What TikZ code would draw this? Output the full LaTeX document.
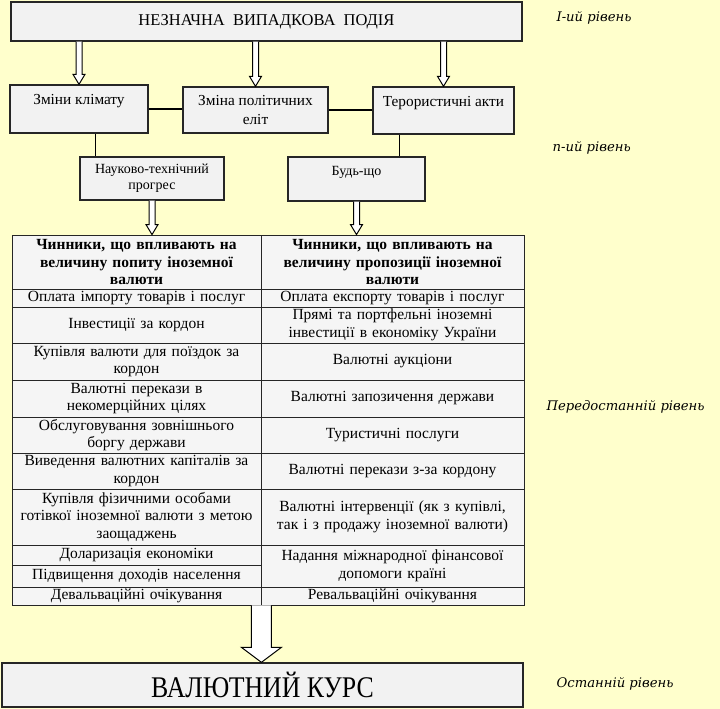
\documentclass[tikz,border=0pt]{standalone}
\usepackage{fontspec}
\setmainfont{Liberation Serif}
\newfontfamily\lvlfont{DejaVu Serif}
\newfontfamily\narrowserif{Liberation Serif}[FakeStretch=0.86]
\usetikzlibrary{calc}
\definecolor{bg}{HTML}{FFFFCC}
\definecolor{boxfill}{HTML}{F2F2F2}
\definecolor{cellfill}{HTML}{F5F5F5}
\newcommand\harrow[5]{\draw[harrowst] let \p1=(#1), \p2=(#2) in
  (\x1-#3,\y1) -- (\x1-#3,\y2+#5) -- (\x1-#4,\y2+#5) -- (\x1,\y2) --
  (\x1+#4,\y2+#5) -- (\x1+#3,\y2+#5) -- (\x1+#3,\y1);}
\newcommand\tcell[7]{% style, name, x1, x2, y1, y2, text
  \node[#1, minimum width={#4pt-#3pt}, minimum height={#6pt-#5pt}] (#2)
    at ({(#3+#4)/2},{(#5+#6)/2}) {#7};}
\begin{document}
\begin{tikzpicture}[x=1pt,y=-1pt,
  box/.style={draw=black!85, line width=1.3pt, fill=boxfill, inner sep=0pt,
    align=center, font=\fontsize{15.3}{19}\selectfont},
  cell/.style={draw=black!85, line width=0.8pt, fill=cellfill, inner sep=0pt,
    align=center, font=\fontsize{15.5}{17.5}\selectfont},
  lcell/.style={cell, text width=247pt},
  rcell/.style={cell, text width=261pt},
  lvl/.style={anchor=west, font=\lvlfont\itshape\fontsize{13.2}{15}\selectfont},
  harrowst/.style={draw=black, line width=1pt, fill=white},
  link/.style={draw=black, line width=1.1pt}]
\fill[bg] (0,0) rectangle (720,709);
\useasboundingbox (0,0) rectangle (720,709);

% level labels
\node[lvl] (lv1) at (553,18) {І-ий рівень};
\node[lvl] (lv2) at (549,148) {n-ий рівень};
\node[lvl] (lv3) at (543,407) {Передостанній рівень};
\node[lvl] (lv4) at (553,684) {Останній рівень};

% boxes
\node[box, minimum width=511pt, minimum height=39pt, font=\fontsize{16.5}{18}\selectfont]
  (top) at (266.5,21.5) {НЕЗНАЧНА\ \ ВИПАДКОВА\ \ ПОДІЯ};
\node[box, minimum width=138pt, minimum height=48pt] (b1) at (79,109) {Зміни клімату\\\mbox{}};
\node[box, minimum width=145pt, minimum height=46pt] (b2) at (255.5,110) {Зміна політичних\\еліт};
\node[box, minimum width=141pt, minimum height=47pt] (b3) at (443.5,110.5) {Терористичні акти\\\mbox{}};
\node[box, minimum width=144pt, minimum height=43pt, font=\fontsize{14}{16}\selectfont] (b4) at (152,178.5) {Науково-технічний\\прогрес};
\node[box, minimum width=137pt, minimum height=44pt, font=\fontsize{14}{16}\selectfont] (b5) at (356.5,179) {Будь-що\\\mbox{}};
\node[box, minimum width=521pt, minimum height=44pt, font=\narrowserif\fontsize{30}{32}\selectfont] (bot) at (262.5,685) {ВАЛЮТНИЙ КУРС};

% links
\draw[link] (b1.east) -- (b1.east -| b2.west);
\draw[link] (b2.east) -- (b2.east -| b3.west);
\draw[link] ([xshift=16pt]b4.north west) -- ([xshift=16pt]b4.north west |- b1.south);
\draw[link] ([xshift=-26pt]b5.north east) -- ([xshift=-26pt]b5.north east |- b3.south);

% table
\tcell{lcell}{h1}{12}{261}{235}{289}{\bfseries Чинники, що впливають на\\величину попиту іноземної\\валюти}
\tcell{rcell}{h2}{261}{524}{235}{289}{\bfseries Чинники, що впливають на\\величину пропозиції іноземної\\валюти}
\tcell{lcell}{l1}{12}{261}{289}{307}{Оплата імпорту товарів і послуг}
\tcell{rcell}{r1}{261}{524}{289}{307}{Оплата експорту товарів і послуг}
\tcell{lcell}{l2}{12}{261}{307}{343}{Інвестиції за кордон}
\tcell{rcell}{r2}{261}{524}{307}{343}{Прямі та портфельні іноземні\\інвестиції в економіку України}
\tcell{lcell}{l3}{12}{261}{343}{380}{Купівля валюти для поїздок за\\кордон}
\tcell{rcell}{r3}{261}{524}{343}{380}{Валютні аукціони}
\tcell{lcell}{l4}{12}{261}{380}{417}{Валютні перекази в\\некомерційних цілях}
\tcell{rcell}{r4}{261}{524}{380}{417}{Валютні запозичення держави}
\tcell{lcell}{l5}{12}{261}{417}{453}{Обслуговування зовнішнього\\боргу держави}
\tcell{rcell}{r5}{261}{524}{417}{453}{Туристичні послуги}
\tcell{lcell}{l6}{12}{261}{453}{489}{Виведення валютних капіталів за\\кордон}
\tcell{rcell}{r6}{261}{524}{453}{489}{Валютні перекази з-за кордону}
\tcell{lcell}{l7}{12}{261}{489}{545}{Купівля фізичними особами\\готівкої іноземної валюти з метою\\заощаджень}
\tcell{rcell}{r7}{261}{524}{489}{545}{Валютні інтервенції (як з купівлі,\\так і з продажу іноземної валюти)}
\tcell{lcell}{l8}{12}{261}{545}{565}{Доларизація економіки}
\tcell{lcell}{l8b}{12}{261}{565}{587}{Підвищення доходів населення}
\tcell{rcell}{r8}{261}{524}{545}{587}{Надання міжнародної фінансової\\допомоги країні}
\tcell{lcell}{l9}{12}{261}{587}{605}{Девальваційні очікування}
\tcell{rcell}{r9}{261}{524}{587}{605}{Ревальваційні очікування}

% arrows
\harrow{top.south -| b1.north}{b1.north}{3pt}{6pt}{10pt}
\harrow{top.south -| b2.north}{b2.north}{3pt}{6pt}{10pt}
\harrow{top.south -| b3.north}{b3.north}{3pt}{6pt}{10pt}
\harrow{b4.south}{b4.south |- h1.north}{3pt}{6pt}{10pt}
\harrow{b5.south}{b5.south |- h2.north}{3pt}{6pt}{10pt}
\harrow{l9.south east}{l9.south east |- bot.north}{10pt}{20pt}{15pt}
\end{tikzpicture}
\end{document}
